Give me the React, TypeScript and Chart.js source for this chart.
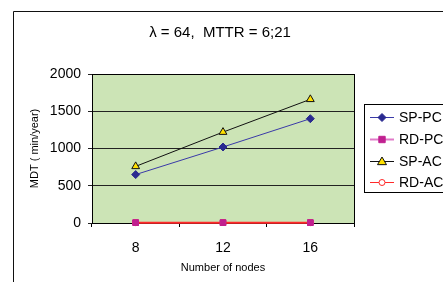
import React, { useEffect, useRef } from "react";
import { Chart, registerables } from "chart.js";

Chart.register(...registerables);

const categories = ["8", "12", "16"];
const spPc = [650, 1020, 1400];
const rdPc = [5, 5, 5];
const spAc = [760, 1220, 1660];
const rdAc = [5, 5, 5];
const yTicks = [0, 500, 1000, 1500, 2000];
const titleText = "λ = 64,  MTTR = 6;21";
const yTitle = "MDT ( min/year)";
const xTitle = "Number of nodes";

const FONT = "'Liberation Sans', Arial, sans-serif";

const series = [
  { label: "SP-PC", data: spPc, line: "#3a3aa8", fill: "#2a2a90", stroke: "#2a2a90", style: "rectRot", r: 4 },
  { label: "RD-PC", data: rdPc, line: "#e07ac8", fill: "#c02090", stroke: "#c02090", style: "rect", r: 4 },
  { label: "SP-AC", data: spAc, line: "#111111", fill: "#ffe000", stroke: "#111111", style: "triangle", r: 4.5 },
  { label: "RD-AC", data: rdAc, line: "#ff2a2a", fill: "#ffffff", stroke: "#ff2a2a", style: "circle", r: 3 },
];

function drawMarker(ctx: CanvasRenderingContext2D, style: string, x: number, y: number, r: number, fill: string, stroke: string) {
  ctx.save();
  ctx.fillStyle = fill;
  ctx.strokeStyle = stroke;
  ctx.lineWidth = 1;
  ctx.beginPath();
  if (style === "rectRot") {
    ctx.moveTo(x, y - r);
    ctx.lineTo(x + r, y);
    ctx.lineTo(x, y + r);
    ctx.lineTo(x - r, y);
    ctx.closePath();
  } else if (style === "rect") {
    ctx.rect(x - r * 0.8, y - r * 0.8, r * 1.6, r * 1.6);
  } else if (style === "triangle") {
    ctx.moveTo(x, y - r);
    ctx.lineTo(x + r, y + r * 0.7);
    ctx.lineTo(x - r, y + r * 0.7);
    ctx.closePath();
  } else {
    ctx.arc(x, y, r, 0, Math.PI * 2);
  }
  ctx.fill();
  ctx.stroke();
  ctx.restore();
}

const decorPlugin = {
  id: "decor",
  beforeDraw(chart: any) {
    const { ctx, chartArea } = chart;
    ctx.save();
    ctx.fillStyle = "#ffffff";
    ctx.fillRect(0, 0, chart.width, chart.height);
    ctx.fillStyle = "#cce4b6";
    ctx.fillRect(chartArea.left, chartArea.top, chartArea.right - chartArea.left, chartArea.bottom - chartArea.top);
    // outer frame
    ctx.strokeStyle = "#111111";
    ctx.lineWidth = 1;
    ctx.beginPath();
    ctx.moveTo(13.5, chart.height);
    ctx.lineTo(13.5, 11.5);
    ctx.lineTo(chart.width, 11.5);
    ctx.stroke();
    ctx.restore();
  },
  beforeDatasetsDraw(chart: any) {
    const { ctx, chartArea } = chart;
    ctx.save();
    ctx.strokeStyle = "#000000";
    ctx.lineWidth = 1;
    ctx.strokeRect(Math.round(chartArea.left) + 0.5, Math.round(chartArea.top) + 0.5, Math.round(chartArea.right - chartArea.left), Math.round(chartArea.bottom - chartArea.top));
    ctx.restore();
  },
  afterDatasetsDraw(chart: any) {
    // RD-PC markers sit on top of the RD-AC line, as in the original
    const meta = chart.getDatasetMeta(1);
    meta.data.forEach((pt: any) => pt.draw(chart.ctx, chart.chartArea));
  },
  afterDraw(chart: any) {
    const { ctx } = chart;
    ctx.save();
    // title
    ctx.fillStyle = "#000000";
    ctx.font = `15px ${FONT}`;
    ctx.textAlign = "center";
    ctx.textBaseline = "middle";
    ctx.fillText(titleText, 220, 33);
    // legend
    ctx.strokeStyle = "#000000";
    ctx.lineWidth = 1;
    ctx.strokeRect(364.5, 104.5, 100, 88);
    ctx.font = `14px ${FONT}`;
    ctx.textAlign = "left";
    const ys = [117, 139, 161, 182];
    series.forEach((s, i) => {
      const y = ys[i];
      ctx.strokeStyle = s.line;
      ctx.lineWidth = i === 1 ? 2 : 1;
      ctx.beginPath();
      ctx.moveTo(370, y + 0.5);
      ctx.lineTo(394, y + 0.5);
      ctx.stroke();
      drawMarker(ctx, s.style, 382, y + 0.5, s.r, s.fill, s.stroke);
      ctx.fillStyle = "#000000";
      ctx.fillText(s.label, 399, y + 1);
    });
    ctx.restore();
  },
};

export default function App() {
  const ref = useRef<HTMLCanvasElement>(null);
  useEffect(() => {
    if (!ref.current) return;
    const chart = new Chart(ref.current, {
      type: "line",
      data: {
        labels: categories,
        datasets: series.map((s, i) => ({
          label: s.label,
          data: s.data,
          order: series.length - i,
          borderColor: s.line,
          borderWidth: s.label === "RD-AC" ? 2 : 1,
          backgroundColor: s.fill,
          pointStyle: s.style as any,
          pointRadius: s.r,
          pointBackgroundColor: s.fill,
          pointBorderColor: s.stroke,
          pointBorderWidth: 1,
          tension: 0,
          fill: false,
          clip: false as any,
        })),
      },
      options: {
        animation: false,
        responsive: false,
        devicePixelRatio: 1,
        layout: { padding: { top: 74, right: 89, bottom: 0, left: 0 } },
        plugins: {
          legend: { display: false },
          title: { display: false },
          tooltip: { enabled: false },
        },
        scales: {
          x: {
            type: "category",
            offset: true,
            afterFit: (scale: any) => { scale.height = 59; },
            grid: { offset: true, drawOnChartArea: false, drawTicks: true, tickLength: 4, color: "#000000" },
            border: { display: true, color: "#000000" },
            ticks: { color: "#000000", font: { family: FONT, size: 14 }, padding: 13, maxRotation: 0 },
            title: { display: true, text: xTitle, color: "#000000", font: { family: FONT, size: 11 }, padding: { top: 0, bottom: 7 } },
          },
          y: {
            min: 0,
            max: 2000,
            afterFit: (scale: any) => { scale.width = 92; },
            afterBuildTicks: (scale: any) => { scale.ticks = yTicks.map((v) => ({ value: v })); },
            grid: { color: "#222222", drawTicks: true, tickLength: 4 },
            border: { display: true, color: "#000000" },
            ticks: { color: "#000000", font: { family: FONT, size: 14 }, padding: 7, callback: (v: any) => String(v) },
            title: { display: true, text: yTitle, color: "#000000", font: { family: FONT, size: 11 }, padding: { top: 28, bottom: 0 } },
          },
        },
      },
      plugins: [decorPlugin],
    });
    return () => chart.destroy();
  }, []);
  return (
    <div style={{ position: "fixed", left: 0, top: 0, width: 443, height: 282 }}>
      <canvas ref={ref} width={443} height={282} style={{ width: 443, height: 282, display: "block" }} />
    </div>
  );
}
